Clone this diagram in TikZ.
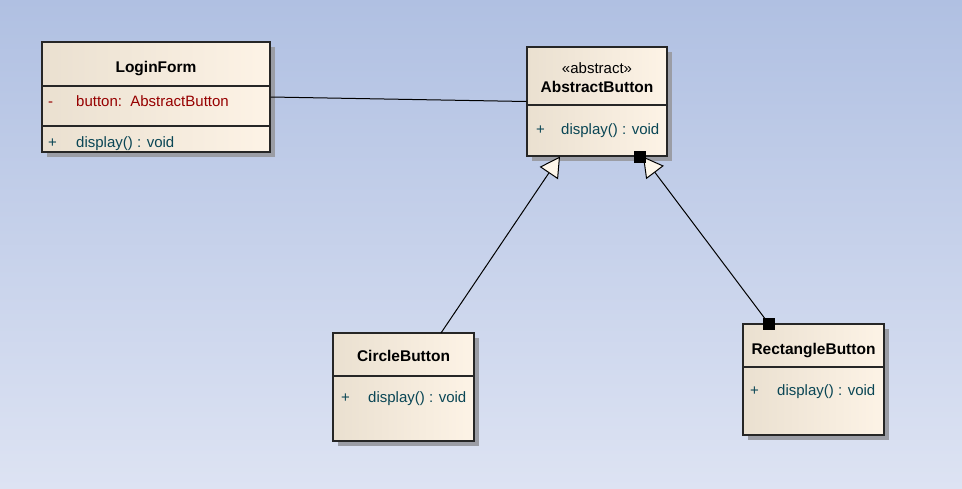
\documentclass[tikz,border=0pt]{standalone}
\usepackage{fontspec}
\setmainfont{Liberation Sans}
\usetikzlibrary{arrows.meta,shadows}
\definecolor{bgtop}{RGB}{176,192,226}
\definecolor{bgbot}{RGB}{221,227,243}
\definecolor{boxL}{RGB}{234,224,208}
\definecolor{boxR}{RGB}{253,243,230}
\definecolor{attr}{RGB}{150,0,0}
\definecolor{meth}{RGB}{10,70,85}
\definecolor{shade}{RGB}{155,157,165}
\definecolor{trifill}{RGB}{253,246,234}
\begin{document}
\begin{tikzpicture}[x=1pt,y=-1pt,
  umlbox/.style={draw=black!85, line width=1.3pt, left color=boxL, right color=boxR, inner sep=0pt,
    drop shadow={shadow xshift=5pt, shadow yshift=-5pt, fill=shade, opacity=1}},
  divline/.style={draw=black!85, line width=1.1pt},
  titletext/.style={font=\fontsize{15.5}{18}\selectfont\bfseries, inner sep=0pt, anchor=base},
  stereo/.style={font=\fontsize{15}{18}\selectfont, inner sep=0pt, anchor=base},
  attrtext/.style={font=\fontsize{15}{18}\selectfont, text=attr, inner sep=0pt, anchor=base west},
  methtext/.style={font=\fontsize{15}{18}\selectfont, text=meth, inner sep=0pt, anchor=base west},
  conn/.style={draw=black, line width=1pt},
  inh/.style={conn, -{Triangle[length=20pt,width=22pt,fill=trifill,line width=1pt]}},
  handle/.style={fill=black, inner sep=0pt, minimum size=12pt}
]
\path[use as bounding box, top color=bgtop, bottom color=bgbot] (0,0) rectangle (962,488);

% LoginForm
\node[umlbox, minimum width=228pt, minimum height=110pt] (lf) at (156,97) {};
\draw[divline] (42,86) -- (270,86);
\draw[divline] (42,126) -- (270,126);
\node[titletext] (lft) at (156,72) {LoginForm};
\node[attrtext] (lfa1) at (48,106) {-};
\node[attrtext] (lfa2) at (76,106) {button:\ \ AbstractButton};
\node[methtext] (lfm1) at (48,147) {+};
\node[methtext] (lfm2) at (76,147) {display() : void};

% AbstractButton
\node[umlbox, minimum width=140pt, minimum height=109pt] (ab) at (597,101.5) {};
\draw[divline] (527,105) -- (667,105);
\node[stereo] (abs) at (597,73) {«abstract»};
\node[titletext] (abt) at (597,92) {AbstractButton};
\node[methtext] (abm1) at (536,134) {+};
\node[methtext] (abm2) at (561,134) {display() : void};

% CircleButton
\node[umlbox, minimum width=141pt, minimum height=108pt] (cb) at (403.5,387) {};
\draw[divline] (333,376) -- (474,376);
\node[titletext] (cbt) at (403.5,361) {CircleButton};
\node[methtext] (cbm1) at (341,402) {+};
\node[methtext] (cbm2) at (368,402) {display() : void};

% RectangleButton
\node[umlbox, minimum width=141pt, minimum height=111pt] (rb) at (813.5,379.5) {};
\draw[divline] (743,367) -- (884,367);
\node[titletext] (rbt) at (813.5,354) {RectangleButton};
\node[methtext] (rbm1) at (750,395) {+};
\node[methtext] (rbm2) at (777,395) {display() : void};

% connectors
\coordinate (cbtop) at (441,333);
\coordinate (abl) at (560,156.5);
\coordinate (rbtop) at (769,324);
\coordinate (abr) at (643,156.5);
\draw[conn] (lf.east) -- (ab.west);
\draw[inh] (cbtop) -- (abl);
\draw[inh] (rbtop) -- (abr);
\node[handle] (h1) at (640,157) {};
\node[handle] (h2) at (769,324) {};
\end{tikzpicture}
\end{document}
